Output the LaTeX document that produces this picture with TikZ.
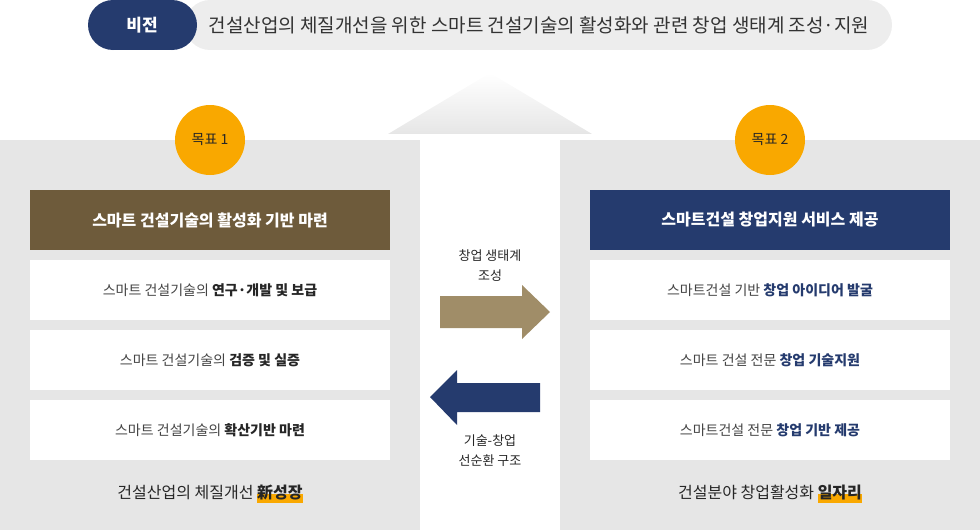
\documentclass[tikz,border=0pt]{standalone}
\usepackage{fontspec}
\setmainfont{Noto Sans CJK KR}
\usetikzlibrary{fadings}
\definecolor{navy}{HTML}{253B6E}
\definecolor{brown}{HTML}{6E5B3B}
\definecolor{tan}{HTML}{A08D68}
\definecolor{orng}{HTML}{F9A800}
\definecolor{panel}{HTML}{E6E6E6}
\definecolor{txt}{HTML}{444444}
\tikzset{
  whitebox/.style={fill=white,minimum width=360pt,minimum height=60pt,inner sep=0pt,font=\fontsize{14}{16}\selectfont,text=txt},
  header/.style={minimum width=360pt,minimum height=60pt,inner sep=0pt,text=white,font=\fontsize{16}{18}\selectfont\bfseries},
  goal/.style={circle,fill=orng,minimum size=70pt,inner sep=0pt,font=\fontsize{14}{16}\selectfont,text=black!85},
  midlabel/.style={align=center,font=\fontsize{13}{20}\selectfont,text=black!85},
  bottomtext/.style={font=\fontsize{16}{18}\selectfont,text=black!85}
}
\newcommand{\hl}[1]{\setbox0\hbox{\bfseries #1}\rlap{\color{orng}\rule[-4pt]{\wd0}{9pt}}\box0}
\begin{document}
\begin{tikzpicture}[x=1pt,y=-1pt]
\useasboundingbox (0,0) rectangle (980,530);
% panels
\fill[panel] (0,140) rectangle (420,530);
\fill[panel] (560,140) rectangle (980,530);
% up triangle
\fill[panel,path fading=north] (388,134) -- (490,73) -- (592,134) -- cycle;
% vision
\fill[black!7] (210,0) rectangle (867,50);
\fill[black!7] (210,25) circle (25);
\fill[black!7] (867,25) circle (25);
\node[font=\fontsize{19}{22}\selectfont,text=black!80] (vt) at (539,25) {건설산업의 체질개선을 위한 스마트 건설기술의 활성화와 관련 창업 생태계 조성·지원};
\fill[navy] (113,0) rectangle (172,50);
\fill[navy] (113,25) circle (25);
\fill[navy] (172,25) circle (25);
\node[text=white,font=\fontsize{17}{20}\selectfont\bfseries] (vb) at (142,25) {비전};
% goals
\node[goal] (g1) at (210,140) {목표 1};
\node[goal] (g2) at (770,140) {목표 2};
% left column
\node[header,fill=brown] (h1) at (210,220) {스마트 건설기술의 활성화 기반 마련};
\node[whitebox] (l1) at (210,290) {스마트 건설기술의 \textbf{\color{black!85}연구·개발 및 보급}};
\node[whitebox] (l2) at (210,360) {스마트 건설기술의 \textbf{\color{black!85}검증 및 실증}};
\node[whitebox] (l3) at (210,430) {스마트 건설기술의 \textbf{\color{black!85}확산기반 마련}};
\node[bottomtext] (lb) at (210,494) {건설산업의 체질개선 \hl{新성장}};
% right column
\node[header,fill=navy] (h2) at (770,220) {스마트건설 창업지원 서비스 제공};
\node[whitebox] (r1) at (770,290) {스마트건설 기반 \textbf{\color{navy}창업 아이디어 발굴}};
\node[whitebox] (r2) at (770,360) {스마트 건설 전문 \textbf{\color{navy}창업 기술지원}};
\node[whitebox] (r3) at (770,430) {스마트건설 전문 \textbf{\color{navy}창업 기반 제공}};
\node[bottomtext] (rb) at (770,494) {건설분야 창업활성화 \hl{일자리}};
% arrows
\fill[tan] (440,296) -- (522,296) -- (522,285) -- (550,312) -- (522,339) -- (522,328) -- (440,328) -- cycle;
\fill[navy] (540,383) -- (457,383) -- (457,370) -- (430,397) -- (457,425) -- (457,412) -- (540,412) -- cycle;
\node[midlabel] (m1) at (490,266) {창업 생태계\\조성};
\node[midlabel] (m2) at (490,451) {기술-창업\\선순환 구조};
\end{tikzpicture}
\end{document}
